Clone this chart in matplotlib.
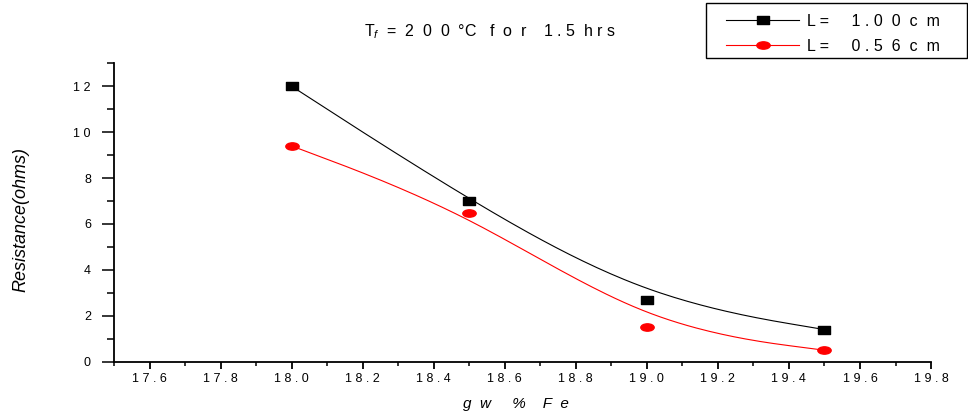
import numpy as np
import matplotlib
matplotlib.use("Agg")
import matplotlib.pyplot as plt
from matplotlib.path import Path
from matplotlib.patches import Rectangle
from matplotlib.transforms import Affine2D
from matplotlib.ticker import FixedLocator, MultipleLocator

plt.rcParams['font.family'] = ['Liberation Sans', 'DejaVu Sans']
plt.rcParams['mathtext.fontset'] = 'custom'
plt.rcParams['mathtext.rm'] = 'Liberation Sans'
plt.rcParams['mathtext.it'] = 'Liberation Sans:italic'

# data
fe = [18.0, 18.5, 19.0, 19.5]
r_100 = [12.0, 7.0, 2.7, 1.4]
r_056 = [9.4, 6.5, 1.5, 0.5]
labels = ['L =     1 . 0  0  c  m', 'L =     0 . 5  6  c  m']

xticks = [17.6, 17.8, 18.0, 18.2, 18.4, 18.6, 18.8, 19.0, 19.2, 19.4, 19.6, 19.8]
xticklabels = ['1 7 . 6', '1 7 . 8', '1 8 . 0', '1 8 . 2', '1 8 . 4', '1 8 . 6',
               '1 8 . 8', '1 9 . 0', '1 9 . 2', '1 9 . 4', '1 9 . 6', '1 9 . 8']
yticks = [0, 2, 4, 6, 8, 10, 12]
yticklabels = ['0', '2', '4', '6', '8', '1 0', '1 2']


def bspline(x, y, n=40):
    # uniform cubic B-spline, data as control points, clamped ends (like Origin)
    px = np.r_[x[0], x[0], x, x[-1], x[-1]]
    py = np.r_[y[0], y[0], y, y[-1], y[-1]]
    t = np.linspace(0, 1, n)
    b = np.array([(1 - t) ** 3,
                  3 * t ** 3 - 6 * t ** 2 + 4,
                  -3 * t ** 3 + 3 * t ** 2 + 3 * t + 1,
                  t ** 3]) / 6
    xs, ys = [], []
    for i in range(len(px) - 3):
        xs.append(px[i:i + 4] @ b)
        ys.append(py[i:i + 4] @ b)
    return np.concatenate(xs), np.concatenate(ys)


rect = Path([(-1, -0.56), (1, -0.56), (1, 0.56), (-1, 0.56), (-1, -0.56)], closed=True)
ell = Path.unit_circle().transformed(Affine2D().scale(1, 0.55))

fig = plt.figure(figsize=(9.68, 4.17), dpi=100)
ax = fig.add_axes([0.1178, 0.1326, 0.8440, 0.7156])

for y, c, m, ms, lab in [(r_100, 'black', rect, 9.0, labels[0]),
                         (r_056, 'red', ell, 9.6, labels[1])]:
    sx, sy = bspline(np.array(fe), np.array(y))
    ax.plot(sx, sy, color=c, lw=0.8, zorder=2)
    ax.plot(fe, y, ls='none', marker=m, ms=ms, color=c, mec=c, zorder=3)
    ax.plot([], [], color=c, lw=0.8, marker=m, ms=ms, label=lab)

ax.set_xlim(17.5, 19.8)
ax.set_ylim(0, 13)
ax.xaxis.set_major_locator(FixedLocator(xticks))
ax.set_xticklabels(xticklabels)
ax.xaxis.set_minor_locator(MultipleLocator(0.1))
ax.yaxis.set_major_locator(FixedLocator(yticks))
ax.set_yticklabels(yticklabels)
ax.yaxis.set_minor_locator(MultipleLocator(1))

for s in ['top', 'right']:
    ax.spines[s].set_visible(False)
for s in ['left', 'bottom']:
    ax.spines[s].set_linewidth(1.3)
ax.tick_params(axis='x', which='major', length=5.3, width=1.3, pad=3, labelsize=9)
ax.tick_params(axis='x', which='minor', length=2.7, width=1.1)
ax.tick_params(axis='y', which='major', length=8.6, width=1.1, pad=8, labelsize=9)
ax.tick_params(axis='y', which='minor', length=4.8, width=1.1)

ax.set_xlabel('g  w     %    F  e', fontsize=11, style='italic')
ax.xaxis.set_label_coords(0.492, -0.118)
ax.set_ylabel('Resistance(ohms)', fontsize=13, style='italic')
ax.yaxis.set_label_coords(-0.103, 0.476)

fig.text(0.506, 0.923, r'T$_{\it f}\ $ =  2  0  0  °C   f  o  r    1 . 5  h r s',
         ha='center', va='center', fontsize=11.5)

# legend box drawn like Origin's, legend entries inside
fig.add_artist(Rectangle((706 / 968, 1 - 58 / 417), 261 / 968, 55 / 417,
                         transform=fig.transFigure, fill=False, ec='black', lw=1.0))
fig.legend(loc='center left', bbox_to_anchor=(726 / 968, 1 - 34 / 417),
           borderaxespad=0, borderpad=0, frameon=False, fontsize=11.5,
           handlelength=4.6, handletextpad=0.45, labelspacing=0.62)

fig.savefig('out.png', dpi=100)
